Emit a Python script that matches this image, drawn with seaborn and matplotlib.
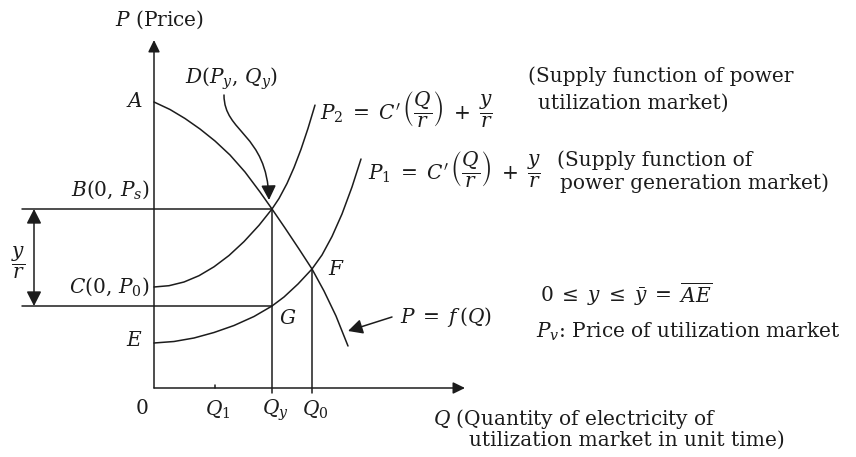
import matplotlib
matplotlib.use("Agg")
import matplotlib.pyplot as plt
from matplotlib.patches import FancyArrowPatch
from matplotlib.path import Path
import pandas as pd
import seaborn as sns

# ---- curve data (Q = quantity, P = price) ----
demand_q = [0.0, 1.6, 3.1, 4.6, 6.1, 7.6, 9.1, 10.6, 11.8, 13.1, 14.5, 15.8, 17.0, 18.2, 19.4]
demand_p = [28.6, 27.85, 26.95, 25.9, 24.7, 23.3, 21.6, 19.6, 17.9, 16.0, 13.9, 11.9, 9.7, 7.2, 4.2]

p2_q = [0.0, 1.5, 3.0, 4.5, 6.0, 7.5, 9.0, 10.5, 11.8, 12.5, 13.3, 14.0, 14.7, 15.4, 16.1]
p2_p = [10.1, 10.23, 10.6, 11.23, 12.12, 13.25, 14.64, 16.27, 17.9, 18.95, 20.45, 22.04, 23.87, 25.96, 28.29]

p1_q = [0.0, 2.0, 4.0, 6.0, 8.0, 10.0, 11.8, 13.0, 14.4, 15.8, 16.8, 17.8, 18.8, 19.8, 20.7]
p1_p = [4.5, 4.65, 5.0, 5.55, 6.25, 7.15, 8.2, 9.1, 10.4, 11.9, 13.3, 15.15, 17.4, 20.1, 22.9]

# ---- key levels ----
q_1, q_y, q_0 = 6.1, 11.8, 15.8
p_a, p_s, p_0, p_e, p_g, p_f = 28.6, 17.9, 10.1, 4.5, 8.2, 11.9

q_ticks = [q_1, q_y, q_0]
q_tick_labels = [r"$Q_1$", r"$Q_y$", r"$Q_0$"]

INK = "#1c1c1c"

sns.set_theme(style="white")
plt.rcParams["font.family"] = ["DejaVu Serif"]
plt.rcParams["mathtext.fontset"] = "dejavuserif"

fig = plt.figure(figsize=(8.56, 4.57), dpi=100)
ax = fig.add_axes([0, 0, 1, 1])
ax.set_xlim(-15.4, 70.2)
ax.set_ylim(-6.9, 38.8)
ax.axis("off")

curves = pd.concat([
    pd.DataFrame({"Q": demand_q, "P": demand_p, "curve": "demand"}),
    pd.DataFrame({"Q": p2_q, "P": p2_p, "curve": "P2"}),
    pd.DataFrame({"Q": p1_q, "P": p1_p, "curve": "P1"}),
])
sns.lineplot(data=curves, x="Q", y="P", units="curve", estimator=None, sort=False,
             color=INK, lw=1.1, ax=ax, legend=False)

# axes with arrow heads
head = "-|>,head_length=0.45,head_width=0.22"
ax.annotate("", xy=(0, 34.8), xytext=(0, 0),
            arrowprops=dict(arrowstyle=head, color=INK, lw=1.1, mutation_scale=16,
                            shrinkA=0, shrinkB=0))
ax.annotate("", xy=(31.1, 0), xytext=(0, 0),
            arrowprops=dict(arrowstyle=head, color=INK, lw=1.1, mutation_scale=16,
                            shrinkA=0, shrinkB=0))

# guide lines
ax.plot([-13.2, q_y], [p_s, p_s], color=INK, lw=1.1)
ax.plot([-13.2, q_y], [p_g, p_g], color=INK, lw=1.1)
ax.plot([q_y, q_y], [p_s, -0.5], color=INK, lw=1.1)
ax.plot([q_0, q_0], [p_f, -0.5], color=INK, lw=1.1)
ax.plot([q_1, q_1], [0, 0.35], color=INK, lw=1.1)

# y/r double arrow
ax.annotate("", xy=(-12.0, p_s), xytext=(-12.0, p_g),
            arrowprops=dict(arrowstyle="<|-|>,head_length=0.55,head_width=0.28",
                            color=INK, lw=1.1, mutation_scale=16, shrinkA=0, shrinkB=0))

# curved pointer to D
verts = [(7.0, 29.3), (7.0, 25.5), (11.3, 25.5), (11.5, 18.8)]
codes = [Path.MOVETO, Path.CURVE4, Path.CURVE4, Path.CURVE4]
ax.add_patch(FancyArrowPatch(path=Path(verts, codes),
                             arrowstyle="-|>,head_length=0.55,head_width=0.28",
                             mutation_scale=16, color=INK, lw=1.1,
                             transform=ax.transData))

# pointer to demand curve
ax.annotate("", xy=(19.4, 5.7), xytext=(23.8, 7.1),
            arrowprops=dict(arrowstyle="-|>,head_length=0.55,head_width=0.28",
                            color=INK, lw=1.1, mutation_scale=16, shrinkA=0, shrinkB=0))

fs = 14.5
kw = dict(color=INK, fontsize=fs)

ax.text(-3.9, 36.8, r"$P$ (Price)", ha="left", va="center", **kw)
ax.text(3.1, 30.9, r"$D(P_y,\,Q_y)$", ha="left", va="center", **kw)
ax.text(-1.1, p_a, r"$A$", ha="right", va="center", **kw)
ax.text(-0.4, 19.8, r"$B(0,\,P_s)$", ha="right", va="center", **kw)
ax.text(-0.4, p_0, r"$C(0,\,P_0)$", ha="right", va="center", **kw)
ax.text(-1.1, p_e + 0.2, r"$E$", ha="right", va="center", **kw)
ax.text(-13.6, 12.5, r"$\dfrac{y}{r}$", ha="center", va="center", **kw)
ax.text(17.4, p_f - 0.1, r"$F$", ha="left", va="center", **kw)
ax.text(12.5, 7.0, r"$G$", ha="left", va="center", **kw)

ax.text(-1.2, -2.1, r"$0$", ha="center", va="center", **kw)
for q, lab in zip(q_ticks, q_tick_labels):
    ax.text(q + 0.3, -2.2, lab, ha="center", va="center", **kw)

ax.text(27.9, -3.1, r"$Q$ (Quantity of electricity of", ha="left", va="center", **kw)
ax.text(31.5, -5.2, "utilization market in unit time)", ha="left", va="center", **kw)

ax.text(24.6, 7.1, r"$P\;=\;f\,(Q)$", ha="left", va="center", **kw)
ax.text(38.6, 9.4, r"$0\;\leq\; y\;\leq\;\bar{y}\;=\;\overline{AE}$",
        ha="left", va="center", **kw)
ax.text(38.2, 5.6, r"$P_v$: Price of utilization market", ha="left", va="center", **kw)

supply_eq = r"$P_{%d}\;=\;C'\,\left(\dfrac{Q}{r}\right)\;+\;\dfrac{y}{r}$"
ax.text(16.6, 27.9, supply_eq % 2, ha="left", va="center", **kw)
ax.text(37.4, 31.2, "(Supply function of power", ha="left", va="center", **kw)
ax.text(38.4, 28.5, "utilization market)", ha="left", va="center", **kw)

ax.text(21.4, 21.9, supply_eq % 1, ha="left", va="center", **kw)
ax.text(40.3, 22.8, "(Supply function of", ha="left", va="center", **kw)
ax.text(40.6, 20.5, "power generation market)", ha="left", va="center", **kw)

fig.savefig("out.png", dpi=100)
